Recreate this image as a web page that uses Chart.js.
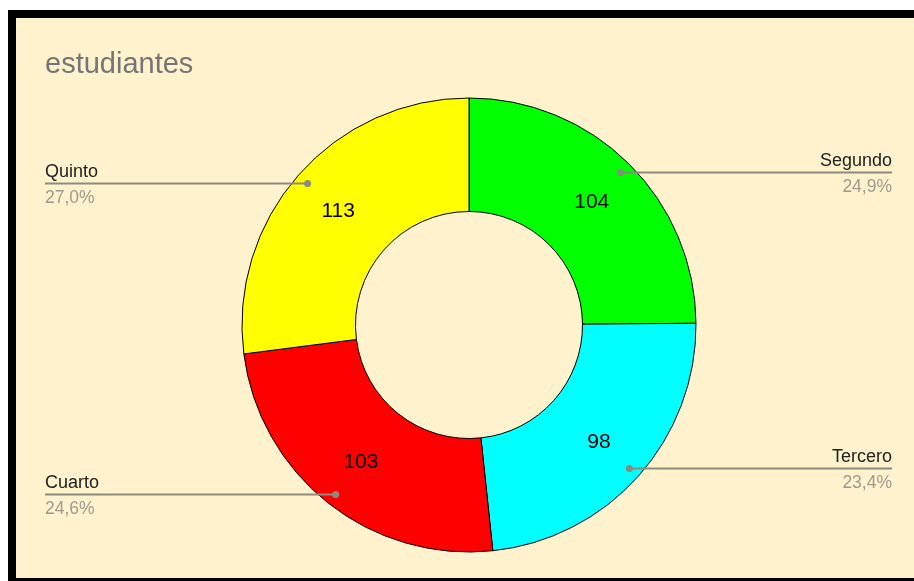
<!DOCTYPE html>
<html>
<head>
<meta charset="utf-8">
<script src="https://cdn.jsdelivr.net/npm/chart.js@4/dist/chart.umd.min.js"></script>
<style>
html,body{margin:0;padding:0;background:#fff;overflow:hidden;}
canvas{position:absolute;left:0;top:0;}
</style>
</head>
<body>
<canvas id="c" width="914" height="581"></canvas>
<script>
const titleText = 'estudiantes';
const categories = ['Segundo', 'Tercero', 'Cuarto', 'Quinto'];
const values = [104, 98, 103, 113];
const colors = ['#00ff00', '#00ffff', '#ff0000', '#ffff00'];

const FONT = '"Liberation Sans", Arial, sans-serif';
const total = values.reduce((a, b) => a + b, 0);
const pctText = v => (v / total * 100).toFixed(1).replace('.', ',') + '%';

const framePlugin = {
  id: 'frame',
  beforeDraw(chart) {
    const ctx = chart.ctx;
    ctx.save();
    ctx.fillStyle = '#ffffff';
    ctx.fillRect(0, 0, 914, 581);
    ctx.fillStyle = '#000000';
    ctx.fillRect(8, 10, 906, 571);
    ctx.fillStyle = '#fff2cc';
    ctx.fillRect(16, 18, 898, 560);
    ctx.fillStyle = '#757575';
    ctx.font = '29px ' + FONT;
    ctx.textBaseline = 'alphabetic';
    ctx.textAlign = 'left';
    ctx.fillText(titleText, 45, 73);
    ctx.restore();
  }
};

const labelPlugin = {
  id: 'labels',
  afterDatasetsDraw(chart) {
    const ctx = chart.ctx;
    const meta = chart.getDatasetMeta(0);
    ctx.save();
    meta.data.forEach((arc, i) => {
      const p = arc.getProps(['x', 'y', 'startAngle', 'endAngle', 'innerRadius', 'outerRadius']);
      const mid = (p.startAngle + p.endAngle) / 2;
      // value label
      const rv = (p.innerRadius + p.outerRadius) / 2 + 4;
      ctx.fillStyle = '#000000';
      ctx.font = '21px ' + FONT;
      ctx.textAlign = 'center';
      ctx.textBaseline = 'middle';
      ctx.fillText(String(values[i]), p.x + Math.cos(mid) * rv, p.y + Math.sin(mid) * rv + 1);
      // leader
      const rd = p.outerRadius - 12;
      const dx = p.x + Math.cos(mid) * rd;
      const dy = Math.round(p.y + Math.sin(mid) * rd) + 0.5;
      const right = Math.cos(mid) >= 0;
      const endX = right ? 892 : 45;
      ctx.strokeStyle = '#8d8a80';
      ctx.lineWidth = 2;
      ctx.beginPath();
      ctx.moveTo(dx, dy);
      ctx.lineTo(endX, dy);
      ctx.stroke();
      ctx.fillStyle = '#8d8a80';
      ctx.beginPath();
      ctx.arc(dx, dy, 3.5, 0, Math.PI * 2);
      ctx.fill();
      ctx.textAlign = right ? 'right' : 'left';
      ctx.textBaseline = 'alphabetic';
      ctx.font = '18px ' + FONT;
      ctx.fillStyle = '#222222';
      ctx.fillText(categories[i], endX, dy - 7);
      ctx.font = '17.5px ' + FONT;
      ctx.fillStyle = '#9e9a90';
      ctx.fillText(pctText(values[i]), endX, dy + 19);
    });
    ctx.restore();
  }
};

new Chart(document.getElementById('c'), {
  type: 'doughnut',
  data: {
    labels: categories,
    datasets: [{
      data: values,
      backgroundColor: colors,
      borderColor: '#000000',
      borderWidth: 1,
      hoverOffset: 0,
      offset: 0
    }]
  },
  options: {
    responsive: false,
    devicePixelRatio: 1,
    animation: false,
    radius: 227,
    cutout: '50%',
    layout: { padding: { left: 24, top: 69, right: 0, bottom: 0 } },
    plugins: { legend: { display: false }, tooltip: { enabled: false }, title: { display: false } },
    events: []
  },
  plugins: [framePlugin, labelPlugin]
});
</script>
</body>
</html>
